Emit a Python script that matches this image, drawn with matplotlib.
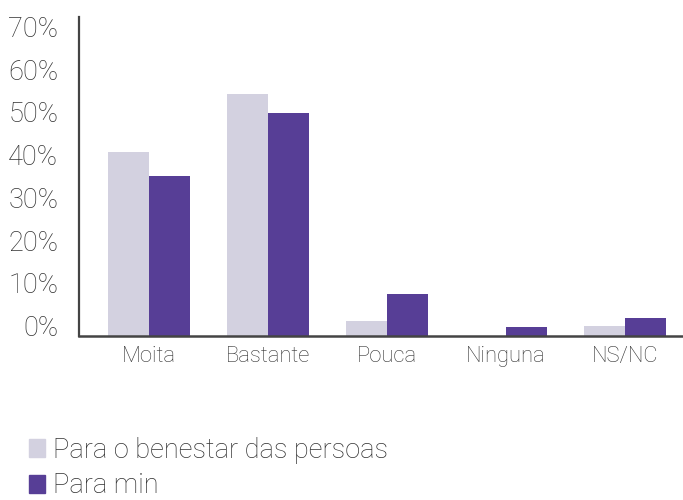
import numpy as np
import matplotlib.pyplot as plt
from matplotlib.patches import Patch

categories = ['Moita', 'Bastante', 'Pouca', 'Ninguna', 'NS/NC']
benestar = [43.1, 56.7, 3.5, 0.0, 2.3]
para_min = [37.5, 52.2, 9.8, 2.1, 4.2]
yticks = [0, 10, 20, 30, 40, 50, 60, 70]

light = '#D3D1E0'
purple = '#573E96'
txt = '#333333'

plt.rcParams['font.family'] = ['Roboto', 'DejaVu Sans']
plt.rcParams['font.weight'] = 'light'

fig = plt.figure(figsize=(6.83, 5.0), dpi=100)
ax = fig.add_axes([0.1157, 0.328, 0.8843, 0.638])

x = np.arange(len(categories))
w = 0.345
ax.bar(x - w / 2, benestar, w, color=light)
ax.bar(x + w / 2, para_min, w, color=purple)

ax.set_xlim(-0.588, 4.49)
ax.set_ylim(0, 74.7)
ax.set_yticks(yticks)
ax.set_yticklabels([f'{v}%' for v in yticks], fontsize=19.6, color=txt, fontweight='light')
for lab in ax.get_yticklabels():
    lab.set_va('baseline')
ax.set_xticks(x)
ax.set_xticklabels(categories, fontsize=15.8, color=txt, fontweight='light')
ax.tick_params(axis='y', length=0, pad=15)
ax.tick_params(axis='x', length=0, pad=7)

for s in ['top', 'right']:
    ax.spines[s].set_visible(False)
ax.spines['left'].set_color('#444444')
ax.spines['left'].set_linewidth(1.6)
ax.spines['bottom'].set_color('#444444')
ax.spines['bottom'].set_linewidth(1.8)

handles = [Patch(color=light, label='Para o benestar das persoas'),
           Patch(color=purple, label='Para min')]
leg = fig.legend(handles=handles, loc='upper left', bbox_to_anchor=(0.042, 0.127),
                 frameon=False, handlelength=0.6, handleheight=0.6,
                 handletextpad=0.3, labelspacing=0.33, borderaxespad=0, borderpad=0,
                 prop={'weight': 'light', 'size': 19.6})
for t in leg.get_texts():
    t.set_color(txt)

fig.savefig('out.png', dpi=100)
